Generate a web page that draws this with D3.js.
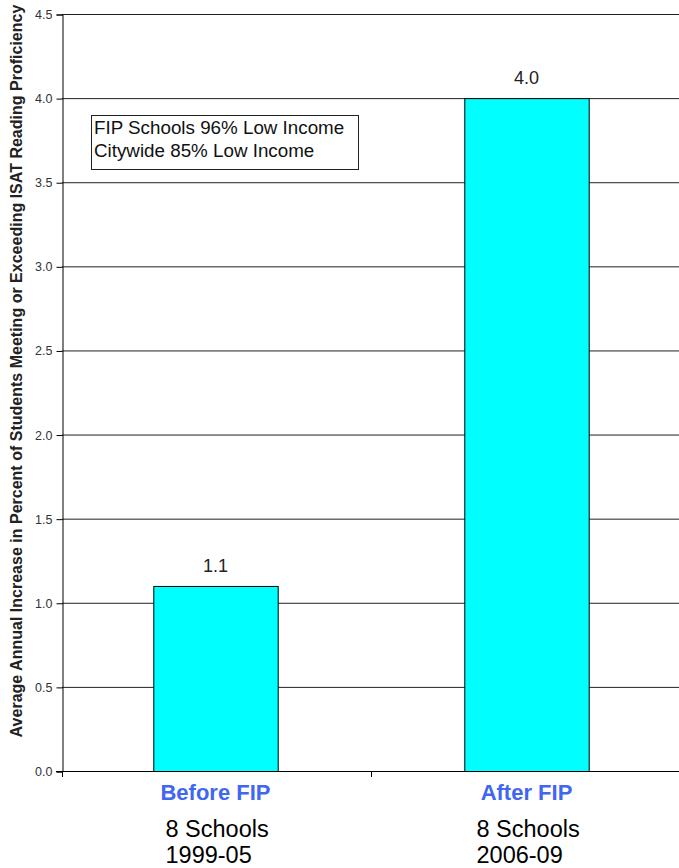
<!DOCTYPE html>
<html>
<head>
<meta charset="utf-8">
<script src="https://cdn.jsdelivr.net/npm/d3@7"></script>
<style>
  body { margin: 0; background: #fff; }
  svg { display: block; font-family: Arial, "Liberation Sans", sans-serif; }
</style>
</head>
<body>
<div id="chart"></div>
<script>
// data
var categories = ["Before FIP", "After FIP"];
var values = [1.1, 4.0];
var subLine1 = ["8 Schools", "8 Schools"];
var subLine2 = ["1999-05", "2006-09"];
var yTicks = [0, 0.5, 1, 1.5, 2, 2.5, 3, 3.5, 4, 4.5];
var legendLines = ["FIP Schools 96% Low Income", "Citywide 85% Low Income"];
var yTitle = "Average Annual Increase in Percent of Students Meeting or Exceeding ISAT Reading Proficiency";

var width = 679, height = 868;

var svg = d3.select("#chart").append("svg")
    .attr("width", width)
    .attr("height", height);

// scales
var x = d3.scaleBand()
    .domain(categories)
    .range([60, 682])
    .paddingInner(0.6)
    .paddingOuter(0.3);

var y = d3.scaleLinear()
    .domain([0, 4.5])
    .range([771, 14]);

// gridlines
svg.append("g")
    .selectAll("line")
    .data(yTicks.filter(function (d) { return d > 0; }))
    .enter()
    .append("line")
    .attr("x1", 62)
    .attr("x2", width)
    .attr("y1", function (d) { return y(d) + 0.5; })
    .attr("y2", function (d) { return y(d) + 0.5; })
    .attr("stroke", "#222")
    .attr("stroke-width", 1);

// bars
svg.append("g")
    .selectAll("rect")
    .data(values)
    .enter()
    .append("rect")
    .attr("x", function (d, i) { return x(categories[i]) + 0.5; })
    .attr("y", function (d) { return y(d) + 0.5; })
    .attr("width", x.bandwidth())
    .attr("height", function (d) { return y(0) - y(d); })
    .attr("fill", "#00ffff")
    .attr("stroke", "#000")
    .attr("stroke-width", 1);

// value labels
svg.append("g")
    .selectAll("text")
    .data(values)
    .enter()
    .append("text")
    .attr("x", function (d, i) { return x(categories[i]) + x.bandwidth() / 2; })
    .attr("y", function (d) { return y(d) - 14; })
    .attr("text-anchor", "middle")
    .attr("font-size", 18)
    .attr("fill", "#222")
    .text(function (d) { return d.toFixed(1); });

// y axis
var yAxis = svg.append("g")
    .attr("transform", "translate(62.5,0.5)")
    .call(d3.axisLeft(y).tickValues(yTicks).tickSize(6).tickPadding(4)
        .tickFormat(d3.format(".1f")));
yAxis.select(".domain").attr("stroke", "#000");
yAxis.selectAll(".tick line").attr("stroke", "#000");
yAxis.selectAll(".tick text")
    .attr("font-size", 12.5)
    .attr("fill", "#333")
    .attr("font-family", "Arial, 'Liberation Sans', sans-serif");

// x axis line with ticks at band edges
svg.append("line")
    .attr("x1", 56).attr("x2", width)
    .attr("y1", y(0) + 0.5).attr("y2", y(0) + 0.5)
    .attr("stroke", "#000");
var edges = [62, (x(categories[0]) + x(categories[1]) + x.bandwidth()) / 2];
svg.append("g")
    .selectAll("line")
    .data(edges)
    .enter()
    .append("line")
    .attr("x1", function (d) { return d + 0.5; })
    .attr("x2", function (d) { return d + 0.5; })
    .attr("y1", y(0))
    .attr("y2", y(0) + 6)
    .attr("stroke", "#000");

// category labels
var cat = svg.append("g")
    .selectAll("g")
    .data(categories)
    .enter()
    .append("g")
    .attr("transform", function (d) {
        return "translate(" + (x(d) + x.bandwidth() / 2) + ",0)";
    });
cat.append("text")
    .attr("y", 800)
    .attr("text-anchor", "middle")
    .attr("font-size", 22)
    .attr("font-weight", "bold")
    .attr("fill", "#4166f0")
    .text(function (d) { return d; });
cat.append("text")
    .attr("x", -50)
    .attr("y", 837)
    .attr("font-size", 23.5)
    .attr("fill", "#000")
    .text(function (d, i) { return subLine1[i]; });
cat.append("text")
    .attr("x", -50)
    .attr("y", 863)
    .attr("font-size", 23.5)
    .attr("fill", "#000")
    .text(function (d, i) { return subLine2[i]; });

// legend box
var legend = svg.append("g");
legend.append("rect")
    .attr("x", 91.5).attr("y", 115.5)
    .attr("width", 267).attr("height", 54)
    .attr("fill", "#fff")
    .attr("stroke", "#222");
legend.selectAll("text")
    .data(legendLines)
    .enter()
    .append("text")
    .attr("x", 94)
    .attr("y", function (d, i) { return 134 + i * 23; })
    .attr("font-size", 18.8)
    .attr("fill", "#111")
    .text(function (d) { return d; });

// y title, sized so it runs from y=738 up to y=5 like the original
var title = svg.append("text")
    .attr("transform", "translate(22," + 371 + ") rotate(-90)")
    .attr("text-anchor", "middle")
    .attr("font-size", 12)
    .attr("font-weight", "bold")
    .attr("fill", "#222")
    .text(yTitle);
var len = title.node().getComputedTextLength();
title.attr("font-size", 12 * 733 / len);
</script>
</body>
</html>
